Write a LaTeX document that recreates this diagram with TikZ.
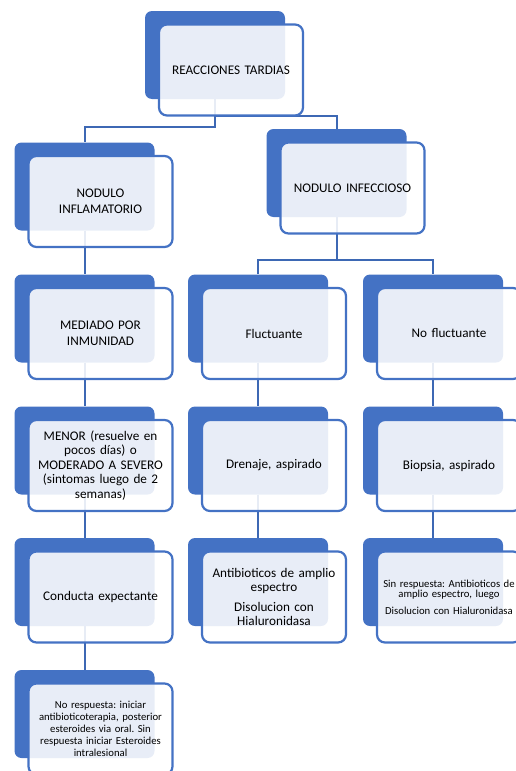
\documentclass[tikz,border=0pt]{standalone}
\usepackage{fontspec}
\setmainfont{Carlito}
\usepackage{tikz}
\usetikzlibrary{calc,backgrounds}
\usepackage{xcolor}
\definecolor{accent}{HTML}{4472C4}
\definecolor{linkblue}{HTML}{3D68B4}
\frenchspacing

\tikzset{
  backbox/.style={rectangle,rounded corners=7pt,fill=accent,inner sep=0pt,
    minimum width=140pt,minimum height=88pt},
  frontbox/.style={rectangle,rounded corners=8pt,draw=accent,line width=2.2pt,
    fill=white,fill opacity=0.88,text opacity=1,inner sep=0pt,align=center,
    minimum width=144pt,minimum height=91pt,text width=132pt,
    font=\fontsize{13.2}{15.5}\selectfont},
  small/.style={font=\fontsize{10.7}{12}\selectfont},
  link/.style={draw=linkblue,line width=2pt}
}

\begin{document}
\begin{tikzpicture}[x=1pt,y=-1pt]
\useasboundingbox (0,0) rectangle (516,771);
% level 1
\node[backbox] (top-b) at (215,55) {};
\node[frontbox] (top) at ($(top-b)+(16,15)$) {REACCIONES TARDIAS};
% level 2
\node[backbox] (inflam-b) at (84.5,186.5) {};
\node[frontbox] (inflam) at ($(inflam-b)+(16,15)$) {NODULO\\INFLAMATORIO};
\node[backbox] (infec-b) at (336.5,173) {};
\node[frontbox] (infec) at ($(infec-b)+(16,15)$) {NODULO INFECCIOSO};
% level 3
\node[backbox] (inmun-b) at (84.5,318.5) {};
\node[frontbox] (inmun) at ($(inmun-b)+(16,15)$) {MEDIADO POR\\INMUNIDAD};
\node[backbox] (fluct-b) at (258,318.5) {};
\node[frontbox] (fluct) at ($(fluct-b)+(16,15)$) {Fluctuante};
\node[backbox] (nofluct-b) at (433,318.5) {};
\node[frontbox] (nofluct) at ($(nofluct-b)+(16,15)$) {No fluctuante};
% level 4
\node[backbox] (menor-b) at (84.5,450.5) {};
\node[frontbox,font=\fontsize{13.2}{14.5}\selectfont] (menor) at ($(menor-b)+(16,15)$)
  {MENOR (resuelve en\\pocos días) o\\MODERADO A SEVERO\\(sintomas luego de 2\\semanas)};
\node[backbox] (drenaje-b) at (258,450.5) {};
\node[frontbox] (drenaje) at ($(drenaje-b)+(16,15)$) {Drenaje, aspirado};
\node[backbox] (biopsia-b) at (433,450.5) {};
\node[frontbox] (biopsia) at ($(biopsia-b)+(16,15)$) {Biopsia, aspirado};
% level 5
\node[backbox] (conducta-b) at (84.5,582) {};
\node[frontbox] (conducta) at ($(conducta-b)+(16,15)$) {Conducta expectante};
\node[backbox] (antib-b) at (258,582) {};
\node[frontbox,font=\fontsize{13.2}{13.8}\selectfont] (antib) at ($(antib-b)+(16,15)$)
  {Antibioticos de amplio\\espectro\\[7pt]Disolucion con\\Hialuronidasa};
\node[backbox] (sinresp-b) at (433,582) {};
\node[frontbox,text width=144pt,font=\fontsize{10.7}{10.6}\selectfont] (sinresp) at ($(sinresp-b)+(16,15)$)
  {Sin respuesta: Antibioticos de\\amplio espectro, luego\\[6pt]Disolucion con Hialuronidasa};
% level 6
\node[backbox] (noresp-b) at (84.5,714) {};
\node[frontbox,small] (noresp) at ($(noresp-b)+(16,15)$)
  {No respuesta: iniciar\\antibioticoterapia, posterior\\esteroides via oral. Sin\\respuesta iniciar Esteroides\\intralesional};

% connectors
\begin{scope}[on background layer]
\draw[link] (top-b.south) -- ++(0,28) -| (inflam-b.north);
\draw[link] (top-b.south) -- ++(0,17) -| (infec-b.north);
\draw[link] (inflam-b.south) -- (inmun-b.north);
\draw[link] (inmun-b.south) -- (menor-b.north);
\draw[link] (menor-b.south) -- (conducta-b.north);
\draw[link] (conducta-b.south) -- (noresp-b.north);
\draw[link] (infec-b.south) -- ++(0,43) -| (fluct-b.north);
\draw[link] (infec-b.south) -- ++(0,43) -| (nofluct-b.north);
\draw[link] (fluct-b.south) -- (drenaje-b.north);
\draw[link] (drenaje-b.south) -- (antib-b.north);
\draw[link] (nofluct-b.south) -- (biopsia-b.north);
\draw[link] (biopsia-b.south) -- (sinresp-b.north);
\end{scope}
\end{tikzpicture}
\end{document}
